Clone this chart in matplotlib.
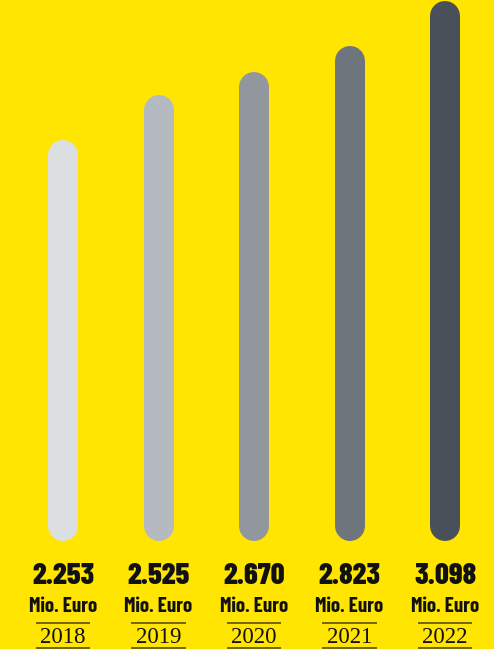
import matplotlib.pyplot as plt
from matplotlib import transforms

# data
years = ['2018', '2019', '2020', '2021', '2022']
values = [2253, 2525, 2670, 2823, 3098]
value_labels = ['2.253', '2.525', '2.670', '2.823', '3.098']
unit = 'Mio. Euro'
bar_colors = ['#dcdfe2', '#b5bac0', '#92979e', '#6f757c', '#49505a']

bg = '#ffe500'
cond = ['Barlow Condensed', 'DejaVu Sans']

fig = plt.figure(figsize=(4.94, 6.49), dpi=100)
fig.patch.set_facecolor(bg)
ax = fig.add_axes([0, 0, 1, 1])
ax.set_facecolor(bg)
ax.set_xlim(-0.66, 4.513)
ax.set_ylim(-747, 3196)
ax.axis('off')

# rounded bars drawn as thick lines with round caps
for i, v in enumerate(values):
    ax.plot([i, i], [0, v], color=bar_colors[i], linewidth=21.6,
            solid_capstyle='round')

# labels below, x in data, y in figure fraction
trans = transforms.blended_transform_factory(ax.transData, fig.transFigure)
for i in range(len(years)):
    ax.text(i, 0.100, value_labels[i], transform=trans, ha='center',
            va='baseline', fontsize=22, fontweight=800,
            family=cond, color='#111111')
    ax.text(i, 0.057, unit, transform=trans, ha='center', va='baseline',
            fontsize=15, fontweight=700, family=cond, color='#111111')
    ax.text(i, 0.0095, years[i], transform=trans, ha='center',
            va='baseline', fontsize=16.5,
            family=['Liberation Serif', 'DejaVu Serif'], color='#111111')
    for yl in (0.040, 0.0023):
        ax.plot([i - 0.283, i + 0.283], [yl, yl], transform=trans,
                color='#5c5000', linewidth=1.2, solid_capstyle='butt')

fig.savefig('out.png', dpi=100, facecolor=bg)
